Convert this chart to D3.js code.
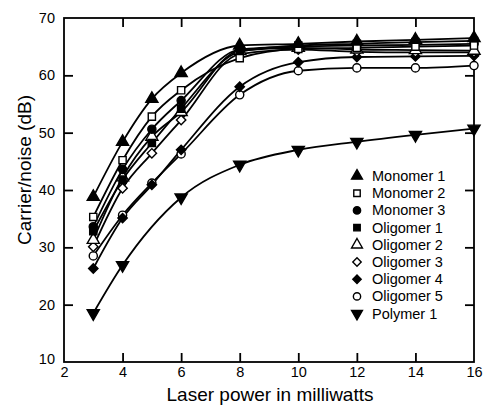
<!DOCTYPE html>
<html>
<head>
<meta charset="utf-8">
<script src="https://cdn.jsdelivr.net/npm/d3@7"></script>
<style>
  body { margin: 0; background: #fff; }
  svg { font-family: "Liberation Sans", Arial, sans-serif; }
</style>
</head>
<body>
<script>
// laser power (mW) where the samples were measured
let power = [3, 4, 5, 6, 8, 10, 12, 14, 16];
let powerPolymer = [3, 4, 6, 8, 10, 12, 14, 16];

let monomer1 = [38.8, 48.4, 55.9, 60.4, 65.2, 65.5, 65.9, 66.2, 66.5];
let monomer2 = [35.3, 45.2, 52.8, 57.4, 63.0, 64.6, 64.8, 65.0, 65.2];
let monomer3 = [33.6, 43.6, 50.6, 55.6, 64.5, 65.0, 65.2, 65.3, 65.5];
let oligomer1 = [32.8, 41.8, 48.2, 54.2, 64.1, 65.2, 65.5, 65.8, 66.0];
let oligomer2 = [31.3, 42.2, 49.3, 53.6, 64.3, 64.8, 64.5, 64.4, 64.3];
let oligomer3 = [30.1, 40.3, 46.4, 52.2, 63.7, 64.5, 64.1, 64.0, 64.0];
let oligomer4 = [26.3, 35.1, 40.9, 47.0, 58.0, 62.3, 63.2, 63.3, 63.4];
let oligomer5 = [28.5, 35.6, 41.2, 46.3, 56.6, 60.8, 61.3, 61.3, 61.7];
let polymer1 = [18.5, 26.9, 38.7, 44.4, 47.0, 48.4, 49.6, 50.7];

let xTicks = [2, 4, 6, 8, 10, 12, 14, 16];
let yTicks = [10, 20, 30, 40, 50, 60, 70];

let series = [
    { name: "Monomer 1", x: power, y: monomer1, shape: "tri", fill: "#000" },
    { name: "Monomer 2", x: power, y: monomer2, shape: "square", fill: "#fff" },
    { name: "Monomer 3", x: power, y: monomer3, shape: "circle", fill: "#000" },
    { name: "Oligomer 1", x: power, y: oligomer1, shape: "square", fill: "#000" },
    { name: "Oligomer 2", x: power, y: oligomer2, shape: "tri", fill: "#fff" },
    { name: "Oligomer 3", x: power, y: oligomer3, shape: "diamond", fill: "#fff" },
    { name: "Oligomer 4", x: power, y: oligomer4, shape: "diamond", fill: "#000" },
    { name: "Oligomer 5", x: power, y: oligomer5, shape: "circle", fill: "#fff" },
    { name: "Polymer 1", x: powerPolymer, y: polymer1, shape: "tridown", fill: "#000" }
];

let margin = { top: 18, right: 10, bottom: 44, left: 64 };
let width = 484, height = 406;
let innerW = 474 - margin.left;
let innerH = 362 - margin.top;

let svg = d3.select("body").append("svg")
    .attr("width", width)
    .attr("height", height);

let x = d3.scaleLinear().domain([2, 16]).range([margin.left, margin.left + innerW]);
let y = d3.scaleLinear().domain([10, 70]).range([margin.top + innerH, margin.top]);

// frame
svg.append("rect")
    .attr("x", x(2)).attr("y", y(70))
    .attr("width", innerW).attr("height", innerH)
    .attr("fill", "none").attr("stroke", "#000").attr("stroke-width", 1.8);

// inward ticks on all four sides
let tk = 9;
let axBottom = svg.append("g").attr("transform", "translate(0," + y(10) + ")")
    .call(d3.axisBottom(x).tickValues(xTicks).tickSizeInner(-tk).tickSizeOuter(0).tickPadding(4));
let axTop = svg.append("g").attr("transform", "translate(0," + y(70) + ")")
    .call(d3.axisTop(x).tickValues(xTicks.slice(1, -1)).tickSizeInner(-tk).tickSizeOuter(0).tickFormat(""));
let axLeft = svg.append("g").attr("transform", "translate(" + x(2) + ",0)")
    .call(d3.axisLeft(y).tickValues(yTicks).tickSizeInner(-tk).tickSizeOuter(0).tickPadding(9));
let axRight = svg.append("g").attr("transform", "translate(" + x(16) + ",0)")
    .call(d3.axisRight(y).tickValues(yTicks.slice(1, -1)).tickSizeInner(-tk).tickSizeOuter(0).tickFormat(""));

[axBottom, axTop, axLeft, axRight].forEach(a => {
    a.select(".domain").remove();
    a.selectAll("line").attr("stroke", "#000").attr("stroke-width", 1.8);
    a.selectAll("text").attr("fill", "#000").style("font-size", "14.5px")
        .style("font-family", "'Liberation Sans', Arial, sans-serif");
});
// ticks at the frame corners would sit on the frame itself
axBottom.selectAll(".tick").filter(d => d === 2 || d === 16).select("line").remove();
axLeft.selectAll(".tick").filter(d => d === 10 || d === 70).select("line").remove();
axBottom.selectAll("text").attr("y", 5);
axLeft.selectAll("text").attr("x", -9);
axLeft.selectAll("text").filter(d => d === 10).attr("y", -3);

// axis titles
svg.append("text")
    .attr("x", 270).attr("y", 401)
    .attr("text-anchor", "middle")
    .style("font-size", "19px")
    .text("Laser power in milliwatts");

svg.append("text")
    .attr("transform", "translate(31,170) rotate(-90)")
    .attr("text-anchor", "middle")
    .style("font-size", "19px")
    .text("Carrier/noise (dB)");

// curves
let line = d3.line()
    .x(d => x(d[0]))
    .y(d => y(d[1]))
    .curve(d3.curveMonotoneX);

series.forEach(s => {
    svg.append("path")
        .datum(s.x.map((v, i) => [v, s.y[i]]))
        .attr("d", line)
        .attr("fill", "none")
        .attr("stroke", "#000")
        .attr("stroke-width", 1.8);
});

function symbolPath(shape, k) {
    if (shape === "tri" || shape === "tridown") return d3.symbol(d3.symbolTriangle, 64 * k)();
    if (shape === "square") return d3.symbol(d3.symbolSquare, 52 * k)();
    if (shape === "diamond") return d3.symbol(d3.symbolSquare, 44 * k)();
    return d3.symbol(d3.symbolCircle, 52 * k)();
}
function symbolRotate(shape) {
    if (shape === "tridown") return 180;
    if (shape === "diamond") return 45;
    return 0;
}

function drawMarker(g, shape, fill, cx, cy, k) {
    g.append("path")
        .attr("d", symbolPath(shape, k))
        .attr("transform", "translate(" + cx + "," + cy + ") rotate(" + symbolRotate(shape) + ")")
        .attr("fill", fill)
        .attr("stroke", "#000")
        .attr("stroke-width", 1.4);
}

let marks = svg.append("g");
series.slice().reverse().forEach(s => {
    s.x.forEach((v, i) => drawMarker(marks, s.shape, s.fill, x(v), y(s.y[i]), 1));
});

// legend
let legend = svg.append("g");
series.forEach((s, i) => {
    let ly = 176 + i * 17.2;
    drawMarker(legend, s.shape, s.fill, 357, ly, 0.8);
    legend.append("text")
        .attr("x", 372).attr("y", ly + 5)
        .style("font-size", "14.5px")
        .text(s.name);
});
</script>
</body>
</html>
